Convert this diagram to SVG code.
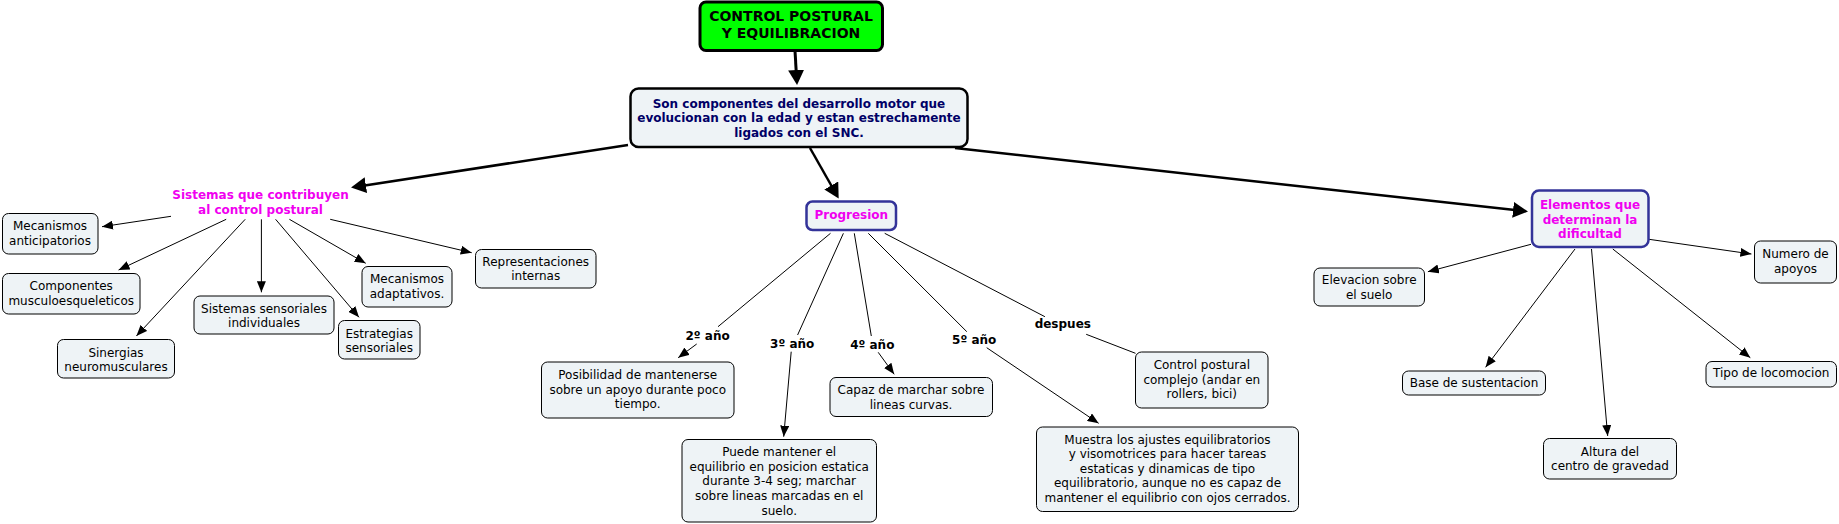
<svg xmlns="http://www.w3.org/2000/svg" width="1839" height="524" viewBox="0 0 1839 524">
<style>
text{font-family:"DejaVu Sans","Verdana",sans-serif;font-size:12px;text-anchor:middle;fill:#000}
.b{font-weight:bold}
.t{font-size:14px;font-weight:bold}
.navy{fill:#000066;font-weight:bold}
.mag{fill:#F000F0;font-weight:bold}
.box{fill:#EEF3F6;stroke:#000;stroke-width:1}
.thin{stroke:#000;stroke-width:1;fill:none}
.thick{stroke:#000;stroke-width:3;fill:none}
.mid{stroke:#000;stroke-width:2.5;fill:none}
</style>
<defs>
<marker id="big" markerUnits="userSpaceOnUse" markerWidth="16" markerHeight="16" refX="11" refY="8" orient="auto" viewBox="0 0 16 16">
<path d="M0,0 L15,8 L0,16 z" fill="#000"/>
</marker>
<marker id="sm" markerUnits="userSpaceOnUse" markerWidth="12" markerHeight="9" refX="11" refY="4.5" orient="auto" viewBox="0 0 12 9">
<path d="M0,0 L11,4.5 L0,9 z" fill="#000"/>
</marker>
</defs>

<g id="connectors">
<line class="thick" x1="795" y1="51" x2="796.8" y2="81" marker-end="url(#big)"/>
<line class="mid" x1="628" y1="145" x2="355" y2="186.9" marker-end="url(#big)"/>
<line class="mid" x1="810" y1="148" x2="836.7" y2="195" marker-end="url(#big)"/>
<line class="mid" x1="955" y1="148" x2="1524" y2="211.1" marker-end="url(#big)"/>

<line class="thin" x1="171" y1="216.3" x2="102" y2="226.7" marker-end="url(#sm)"/>
<line class="thin" x1="226.2" y1="219.3" x2="118.6" y2="270" marker-end="url(#sm)"/>
<line class="thin" x1="245.2" y1="219.3" x2="136.4" y2="336" marker-end="url(#sm)"/>
<line class="thin" x1="261.4" y1="219.3" x2="261.4" y2="292.3" marker-end="url(#sm)"/>
<line class="thin" x1="275.6" y1="219.3" x2="359" y2="317.3" marker-end="url(#sm)"/>
<line class="thin" x1="289.4" y1="219.3" x2="365.7" y2="263.3" marker-end="url(#sm)"/>
<line class="thin" x1="330.2" y1="219.3" x2="471.7" y2="252.7" marker-end="url(#sm)"/>

<line class="thin" x1="830.5" y1="233.3" x2="718" y2="326.7"/>
<line class="thin" x1="696.7" y1="344" x2="678.2" y2="357.7" marker-end="url(#sm)"/>
<line class="thin" x1="843.4" y1="233.3" x2="797.6" y2="335"/>
<line class="thin" x1="791.2" y1="351.7" x2="783.7" y2="436.7" marker-end="url(#sm)"/>
<line class="thin" x1="854.3" y1="233.3" x2="871.3" y2="336"/>
<line class="thin" x1="878.2" y1="352.3" x2="894.2" y2="374.3" marker-end="url(#sm)"/>
<line class="thin" x1="868.3" y1="233.3" x2="966.8" y2="331.7"/>
<line class="thin" x1="986.7" y1="347.7" x2="1098.6" y2="423.3" marker-end="url(#sm)"/>
<line class="thin" x1="884.7" y1="233.3" x2="1044.9" y2="316.7"/>
<line class="thin" x1="1086.2" y1="334.3" x2="1135.5" y2="353.3"/>

<line class="thin" x1="1531" y1="244.3" x2="1427.9" y2="271.7" marker-end="url(#sm)"/>
<line class="thin" x1="1575" y1="249" x2="1485.6" y2="367.3" marker-end="url(#sm)"/>
<line class="thin" x1="1591.5" y1="249" x2="1607.7" y2="436" marker-end="url(#sm)"/>
<line class="thin" x1="1612.8" y1="249" x2="1750.3" y2="357.7" marker-end="url(#sm)"/>
<line class="thin" x1="1649" y1="239.3" x2="1751.4" y2="254" marker-end="url(#sm)"/>
</g>

<g id="title">
<rect x="700" y="2" width="182.5" height="48.5" rx="6" fill="#00FF00" stroke="#000" stroke-width="3"/>
<text class="t" x="791" y="21">CONTROL POSTURAL</text>
<text class="t" x="791" y="38">Y EQUILIBRACION</text>
</g>

<g id="main">
<rect x="630.5" y="88.5" width="337" height="58.5" rx="8" fill="#EEF3F6" stroke="#000" stroke-width="2.5"/>
<text class="navy" x="799" y="107.5">Son componentes del desarrollo motor que</text>
<text class="navy" x="799" y="122">evolucionan con la edad y estan estrechamente</text>
<text class="navy" x="799" y="136.5">ligados con el SNC.</text>
</g>

<g id="sistemas">
<text class="mag" x="260.5" y="199.3">Sistemas que contribuyen</text>
<text class="mag" x="260.5" y="213.6">al control postural</text>
</g>

<g id="progresion">
<rect x="806.5" y="201.5" width="89.5" height="28.5" rx="6" fill="#EEF3F6" stroke="#333399" stroke-width="2.5"/>
<text class="mag" x="851.3" y="219.3">Progresion</text>
</g>

<g id="elementos">
<rect x="1532" y="190.5" width="116.5" height="56.5" rx="7" fill="#EEF3F6" stroke="#333399" stroke-width="2.5"/>
<text class="mag" x="1590" y="209.3">Elementos que</text>
<text class="mag" x="1590" y="223.6">determinan la</text>
<text class="mag" x="1590" y="237.6">dificultad</text>
</g>

<g id="mec-antic">
<rect class="box" x="2.5" y="213.5" width="95.5" height="40.5" rx="6"/>
<text x="50" y="230">Mecanismos</text>
<text x="50" y="245">anticipatorios</text>
</g>

<g id="componentes">
<rect class="box" x="2.5" y="273.5" width="137.5" height="40.5" rx="6"/>
<text x="71.2" y="290.3">Componentes</text>
<text x="71.2" y="305">musculoesqueleticos</text>
</g>

<g id="sinergias">
<rect class="box" x="57.5" y="339.5" width="117" height="38.5" rx="6"/>
<text x="116" y="357">Sinergias</text>
<text x="116" y="371">neuromusculares</text>
</g>

<g id="sist-sens">
<rect class="box" x="194" y="296" width="140" height="38" rx="6"/>
<text x="264" y="312.6">Sistemas sensoriales</text>
<text x="264" y="327">individuales</text>
</g>

<g id="estrategias">
<rect class="box" x="338.5" y="320.5" width="81.5" height="38.5" rx="6"/>
<text x="379.2" y="337.6">Estrategias</text>
<text x="379.2" y="351.6">sensoriales</text>
</g>

<g id="mec-adapt">
<rect class="box" x="362" y="266.5" width="90" height="40.5" rx="6"/>
<text x="407" y="283.3">Mecanismos</text>
<text x="407" y="297.6">adaptativos.</text>
</g>

<g id="representaciones">
<rect class="box" x="475.5" y="249.5" width="120.5" height="38.5" rx="6"/>
<text x="535.7" y="266">Representaciones</text>
<text x="535.7" y="280.3">internas</text>
</g>

<g id="lbl-2">
<text class="b" x="707.6" y="340">2º año</text>
</g>
<g id="lbl-3">
<text class="b" x="792.2" y="347.6">3º año</text>
</g>
<g id="lbl-4">
<text class="b" x="872.3" y="348.6">4º año</text>
</g>
<g id="lbl-5">
<text class="b" x="974.2" y="343.6">5º año</text>
</g>
<g id="lbl-despues">
<text class="b" x="1062.8" y="328.3">despues</text>
</g>

<g id="posibilidad">
<rect class="box" x="541.5" y="362" width="192.5" height="56" rx="6"/>
<text x="637.7" y="379.3">Posibilidad de mantenerse</text>
<text x="637.7" y="394">sobre un apoyo durante poco</text>
<text x="637.7" y="408">tiempo.</text>
</g>

<g id="puede">
<rect class="box" x="682" y="439.5" width="194.5" height="82.5" rx="6"/>
<text x="779.2" y="456">Puede mantener el</text>
<text x="779.2" y="471">equilibrio en posicion estatica</text>
<text x="779.2" y="485.3">durante 3-4 seg; marchar</text>
<text x="779.2" y="500">sobre lineas marcadas en el</text>
<text x="779.2" y="514.6">suelo.</text>
</g>

<g id="capaz">
<rect class="box" x="830" y="377.5" width="162.5" height="39" rx="6"/>
<text x="911" y="394.3">Capaz de marchar sobre</text>
<text x="911" y="408.6">lineas curvas.</text>
</g>

<g id="control">
<rect class="box" x="1135.5" y="352" width="132.5" height="56" rx="6"/>
<text x="1201.8" y="369.3">Control postural</text>
<text x="1201.8" y="384.3">complejo (andar en</text>
<text x="1201.8" y="398.3">rollers, bici)</text>
</g>

<g id="muestra">
<rect class="box" x="1036.5" y="427" width="262" height="84.5" rx="6"/>
<text x="1167.5" y="443.6">Muestra los ajustes equilibratorios</text>
<text x="1167.5" y="458.3">y visomotrices para hacer tareas</text>
<text x="1167.5" y="472.6">estaticas y dinamicas de tipo</text>
<text x="1167.5" y="487.3">equilibratorio, aunque no es capaz de</text>
<text x="1167.5" y="501.6">mantener el equilibrio con ojos cerrados.</text>
</g>

<g id="elevacion">
<rect class="box" x="1314" y="268" width="110.5" height="38" rx="6"/>
<text x="1369.2" y="284.3">Elevacion sobre</text>
<text x="1369.2" y="298.6">el suelo</text>
</g>

<g id="base">
<rect class="box" x="1402.5" y="371" width="143" height="24" rx="6"/>
<text x="1474" y="387">Base de sustentacion</text>
</g>

<g id="altura">
<rect class="box" x="1543.5" y="438.5" width="133" height="40.5" rx="6"/>
<text x="1610" y="456">Altura del</text>
<text x="1610" y="470.3">centro de gravedad</text>
</g>

<g id="tipo">
<rect class="box" x="1706" y="361.5" width="130.5" height="25.5" rx="6"/>
<text x="1771.2" y="377">Tipo de locomocion</text>
</g>

<g id="numero">
<rect class="box" x="1754.5" y="241" width="82" height="42" rx="6"/>
<text x="1795.5" y="257.6">Numero de</text>
<text x="1795.5" y="272.6">apoyos</text>
</g>
</svg>
